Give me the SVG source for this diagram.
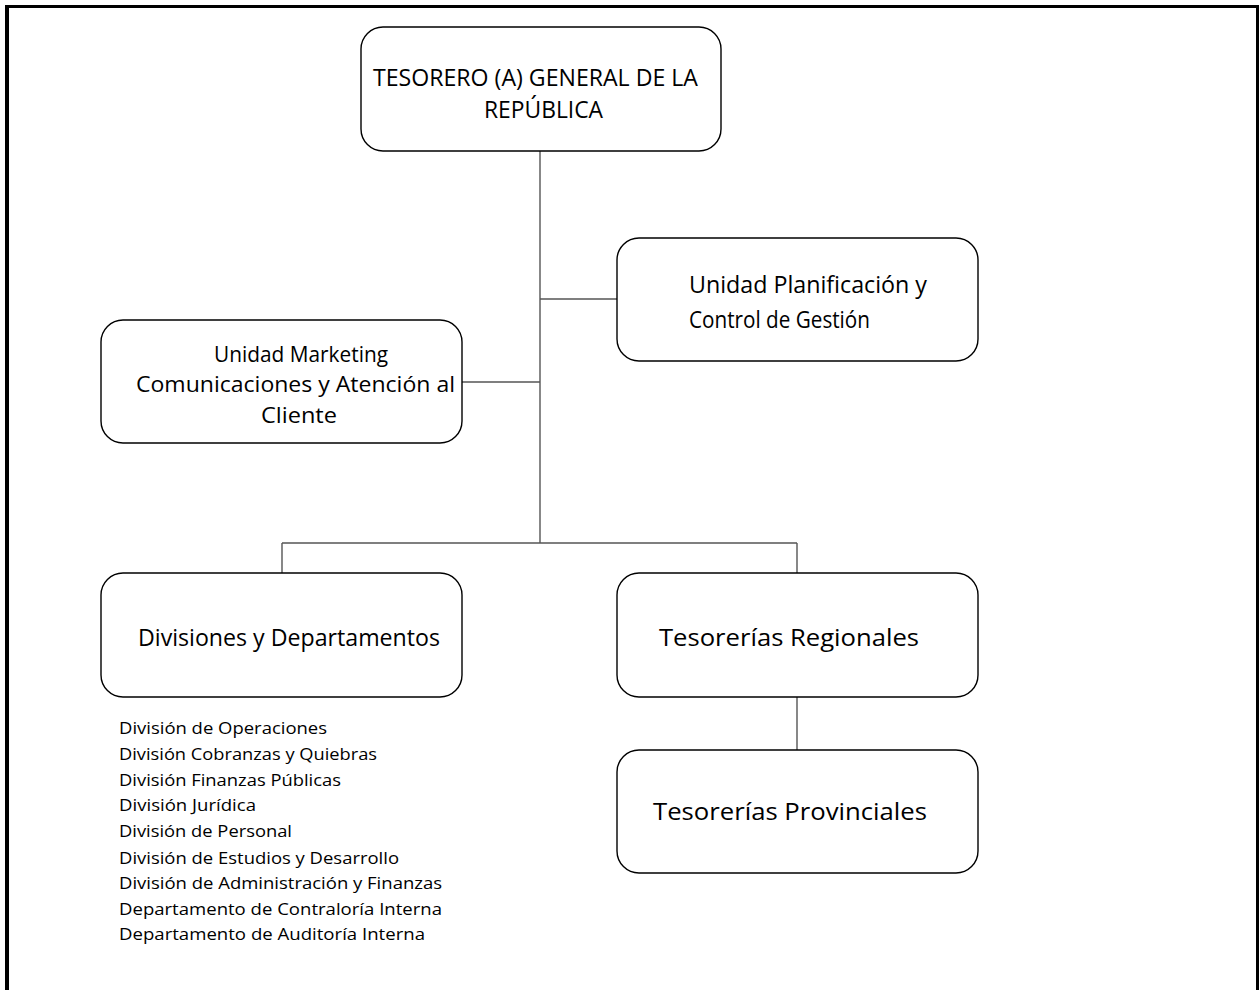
<svg xmlns="http://www.w3.org/2000/svg" width="1260" height="990" viewBox="0 0 1260 990">
<style>
.box{fill:#fff;stroke:#000;stroke-width:1.4}
.con{stroke:#555;stroke-width:1.4;fill:none}
.t{font-family:"Open Sans","Noto Sans","Liberation Sans",sans-serif;font-size:24px;fill:#000}
.m{font-size:21.5px}
.s{font-family:"Open Sans","Noto Sans","Liberation Sans",sans-serif;font-size:17px;fill:#000}
</style>
<rect x="0" y="0" width="1260" height="990" fill="#fff"/>
<g id="frame" fill="#000">
<rect x="5" y="5" width="1254" height="3"/>
<rect x="5" y="5" width="4" height="985"/>
<rect x="1256" y="5" width="3" height="985"/>
</g>
<g id="connectors">
<line class="con" x1="540" y1="151" x2="540" y2="543"/>
<line class="con" x1="540" y1="299" x2="617" y2="299"/>
<line class="con" x1="462" y1="382" x2="540" y2="382"/>
<line class="con" x1="282" y1="543" x2="797" y2="543"/>
<line class="con" x1="282" y1="543" x2="282" y2="573"/>
<line class="con" x1="797" y1="543" x2="797" y2="573"/>
<line class="con" x1="797" y1="697" x2="797" y2="750"/>
</g>
<g id="n-tesorero">
<rect class="box" x="361" y="27" width="360" height="124" rx="22"/>
<text class="t" x="373" y="86" textLength="325" lengthAdjust="spacingAndGlyphs">TESORERO (A) GENERAL DE LA</text>
<text class="t" x="484" y="118" textLength="119" lengthAdjust="spacingAndGlyphs">REPÚBLICA</text>
</g>
<g id="n-planificacion">
<rect class="box" x="617" y="238" width="361" height="123" rx="22"/>
<text class="t" x="689" y="293" textLength="238" lengthAdjust="spacingAndGlyphs">Unidad Planificación y</text>
<text class="t" x="689" y="328" textLength="181" lengthAdjust="spacingAndGlyphs">Control de Gestión</text>
</g>
<g id="n-marketing">
<rect class="box" x="101" y="320" width="361" height="123" rx="22"/>
<text class="t m" x="214" y="362" textLength="174" lengthAdjust="spacingAndGlyphs">Unidad Marketing</text>
<text class="t m" x="136" y="392" textLength="319" lengthAdjust="spacingAndGlyphs">Comunicaciones y Atención al</text>
<text class="t m" x="261" y="423" textLength="76" lengthAdjust="spacingAndGlyphs">Cliente</text>
</g>
<g id="n-divisiones">
<rect class="box" x="101" y="573" width="361" height="124" rx="22"/>
<text class="t" x="138" y="646" textLength="302" lengthAdjust="spacingAndGlyphs">Divisiones y Departamentos</text>
</g>
<g id="n-regionales">
<rect class="box" x="617" y="573" width="361" height="124" rx="22"/>
<text class="t" x="659" y="646" textLength="260" lengthAdjust="spacingAndGlyphs">Tesorerías Regionales</text>
</g>
<g id="n-provinciales">
<rect class="box" x="617" y="750" width="361" height="123" rx="22"/>
<text class="t" x="653" y="820" textLength="274" lengthAdjust="spacingAndGlyphs">Tesorerías Provinciales</text>
</g>
<g id="list">
<text class="s" x="119" y="734" textLength="208" lengthAdjust="spacingAndGlyphs">División de Operaciones</text>
<text class="s" x="119" y="760" textLength="258" lengthAdjust="spacingAndGlyphs">División Cobranzas y Quiebras</text>
<text class="s" x="119" y="786" textLength="222" lengthAdjust="spacingAndGlyphs">División Finanzas Públicas</text>
<text class="s" x="119" y="811" textLength="137" lengthAdjust="spacingAndGlyphs">División Jurídica</text>
<text class="s" x="119" y="837" textLength="173" lengthAdjust="spacingAndGlyphs">División de Personal</text>
<text class="s" x="119" y="864" textLength="280" lengthAdjust="spacingAndGlyphs">División de Estudios y Desarrollo</text>
<text class="s" x="119" y="889" textLength="323" lengthAdjust="spacingAndGlyphs">División de Administración y Finanzas</text>
<text class="s" x="119" y="915" textLength="323" lengthAdjust="spacingAndGlyphs">Departamento de Contraloría Interna</text>
<text class="s" x="119" y="940" textLength="306" lengthAdjust="spacingAndGlyphs">Departamento de Auditoría Interna</text>
</g>
</svg>
